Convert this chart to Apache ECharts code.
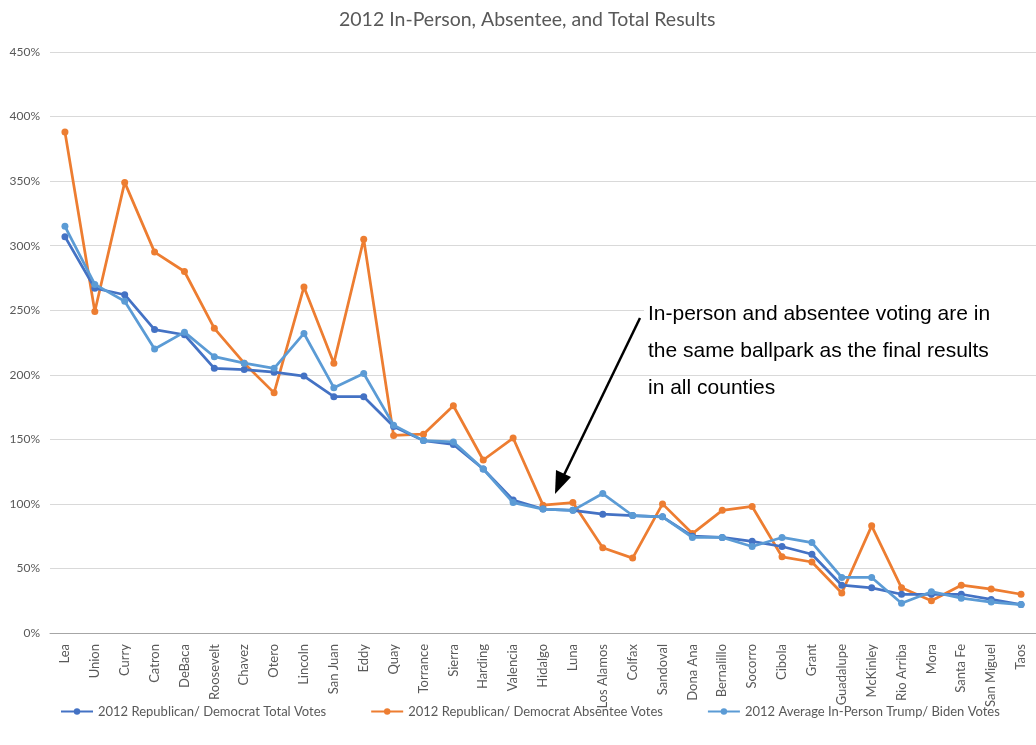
<!DOCTYPE html>
<html><head><meta charset="utf-8">
<script src="https://cdn.jsdelivr.net/npm/echarts@6/dist/echarts.min.js"></script>
<style>html,body{margin:0;padding:0;background:#fff}#c{width:1036px;height:745px}</style>
</head><body><div id="c"></div>
<script>
const counties = ["Lea","Union","Curry","Catron","DeBaca","Roosevelt","Chavez","Otero","Lincoln","San Juan","Eddy","Quay","Torrance","Sierra","Harding","Valencia","Hidalgo","Luna","Los Alamos","Colfax","Sandoval","Dona Ana","Bernalillo","Socorro","Cibola","Grant","Guadalupe","McKinley","Rio Arriba","Mora","Santa Fe","San Miguel","Taos"];
const totalVotes = [307,267,262,235,231,205,204,202,199,183,183,160,149,146,127,103,96,95,92,91,90,75,74,71,67,61,37,35,30,30,30,26,22];
const absenteeVotes = [388,249,349,295,280,236,209,186,268,209,305,153,154,176,134,151,99,101,66,58,100,77,95,98,59,55,31,83,35,25,37,34,30];
const inPersonVotes = [315,270,257,220,233,214,209,205,232,190,201,161,149,148,127,101,96,95,108,91,90,74,74,67,74,70,43,43,23,32,27,24,22];
const yTicks = {min:0, max:450, interval:50};
const seriesNames = ["2012 Republican/ Democrat Total Votes","2012 Republican/ Democrat Absentee Votes","2012 Average In-Person Trump/ Biden Votes"];
const colors = ["#4472C4","#ED7D31","#5B9BD5"];

const chart = echarts.init(document.getElementById('c'));
const font = 'Lato, "Open Sans", sans-serif';
function mk(name, data, color, z){
  return {name, type:'line', data, z, symbol:'circle', symbolSize:7,
    lineStyle:{width:2.75,color}, itemStyle:{color}, emphasis:{disabled:true}};
}
chart.setOption({
  animation:false,
  title:{text:'2012 In-Person, Absentee, and Total Results', left:334, top:5,
    textStyle:{fontFamily:font, fontSize:19.5, fontWeight:'normal', color:'#595959'}},
  grid:{left:50, right:-9, top:52, bottom:112, containLabel:false},
  xAxis:{type:'category', data:counties, boundaryGap:true,
    axisLine:{lineStyle:{color:'#a6a6a6'}}, axisTick:{show:false},
    axisLabel:{rotate:90, interval:0, fontFamily:font, fontSize:13, color:'#595959', margin:11}},
  yAxis:{type:'value', min:yTicks.min, max:yTicks.max, interval:yTicks.interval,
    axisLine:{show:false}, axisTick:{show:false},
    splitLine:{lineStyle:{color:'#d9d9d9'}},
    axisLabel:{formatter:'{value}%', fontFamily:font, fontSize:12, color:'#595959', margin:10}},
  legend:{bottom:22, left:55, itemGap:44, itemWidth:32, itemHeight:8,
    textStyle:{fontFamily:font, fontSize:13, color:'#595959'}, data:seriesNames},
  series:[mk(seriesNames[0], totalVotes, colors[0], 3), mk(seriesNames[1], absenteeVotes, colors[1], 2), mk(seriesNames[2], inPersonVotes, colors[2], 4)],
  graphic:[
    {type:'rect', shape:{x:644, y:302, width:392, height:24}, style:{fill:'#fff'}, z:50},
    {type:'text', left:648, top:296, z:51, style:{text:'In-person and absentee voting are in\nthe same ballpark as the final results\nin all counties', font:'21px "Liberation Sans", Arial, sans-serif', fill:'#000', lineHeight:37}},
    {type:'line', z:51, shape:{x1:640, y1:318, x2:563, y2:477}, style:{stroke:'#000', lineWidth:2.5}},
    {type:'polygon', z:51, shape:{points:[[555,494],[556,470],[571,477]]}, style:{fill:'#000'}}
  ]
});
</script></body></html>
